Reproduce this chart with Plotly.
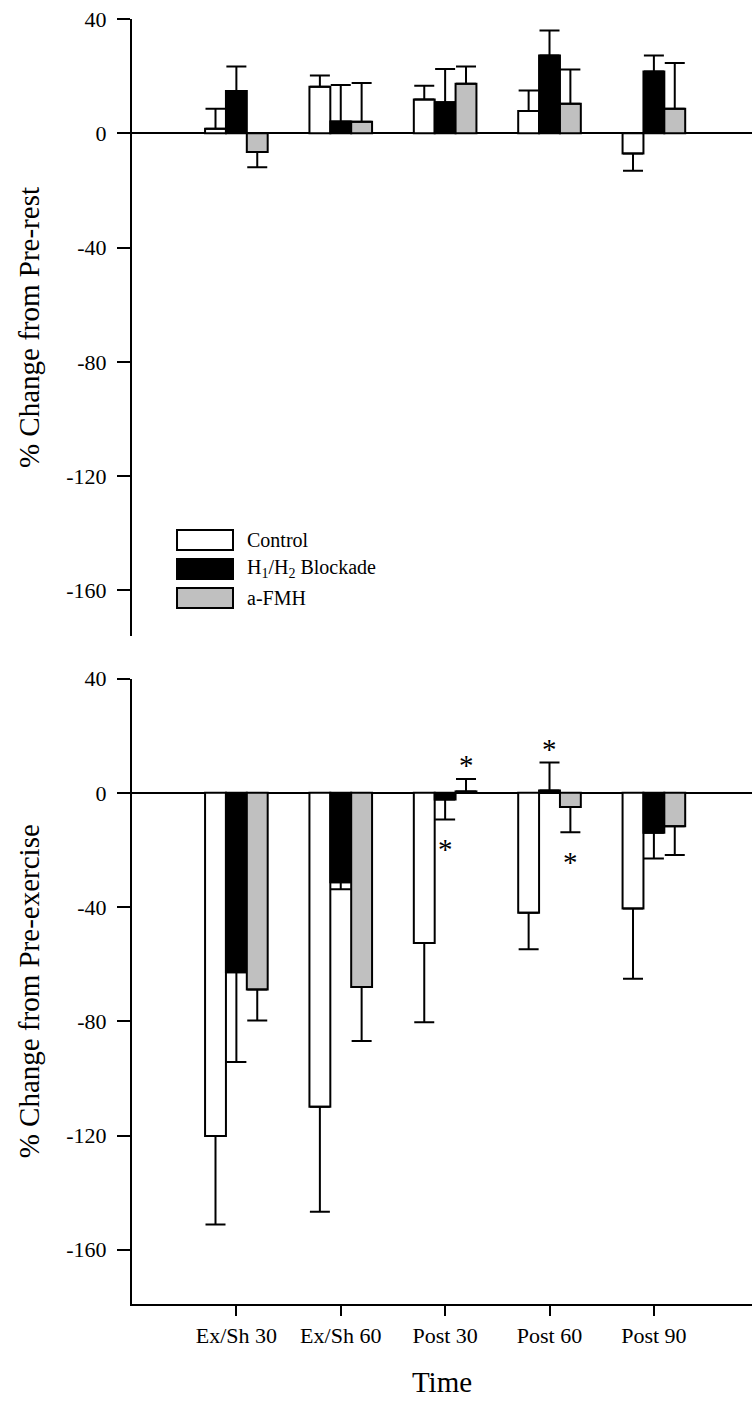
import plotly.graph_objects as go

# Time points and treatment groups
categories = ["Ex/Sh 30", "Ex/Sh 60", "Post 30", "Post 60", "Post 90"]
series_names = ["Control", "H<sub>1</sub>/H<sub>2</sub> Blockade", "a-FMH"]

# % change from pre-rest (mean and SEM)
rest_control = [1.6, 16.3, 11.8, 7.8, -7.1]
rest_control_sem = [7.0, 3.9, 4.8, 7.2, 6.0]
rest_block = [14.8, 4.1, 10.9, 27.2, 21.6]
rest_block_sem = [8.6, 12.8, 11.6, 8.8, 5.6]
rest_fmh = [-6.6, 4.0, 17.3, 10.3, 8.6]
rest_fmh_sem = [5.3, 13.6, 6.1, 12.0, 16.0]

# % change from pre-exercise (mean and SEM)
ex_control = [-120.2, -109.9, -52.6, -42.0, -40.5]
ex_control_sem = [31.0, 36.8, 27.7, 12.8, 24.6]
ex_block = [-62.8, -31.3, -2.3, 0.8, -14.0]
ex_block_sem = [31.5, 2.5, 7.0, 9.8, 9.0]
ex_fmh = [-68.9, -68.0, 0.5, -5.0, -11.7]
ex_fmh_sem = [10.8, 18.9, 4.3, 8.8, 10.1]

# significant differences vs control (time index, group index) in lower panel
significant = [(2, 1), (2, 2), (3, 1), (3, 2)]

y_ticks = [40, 0, -40, -80, -120, -160]
y_tick_text = ["40", "0", "-40", "-80", "-120", "-160"]

FONT = "Liberation Serif"
fills = ["white", "black", "#c0c0c0"]
BARGAP = 0.4
bar_w = (1 - BARGAP) / 3

panels = [
    ([rest_control, rest_block, rest_fmh], [rest_control_sem, rest_block_sem, rest_fmh_sem], "x", "y"),
    ([ex_control, ex_block, ex_fmh], [ex_control_sem, ex_block_sem, ex_fmh_sem], "x2", "y2"),
]

fig = go.Figure()
for vals_all, sems_all, xa, ya in panels:
    for s in range(3):
        vals, sems = vals_all[s], sems_all[s]
        up = [e if v >= 0 else 0 for v, e in zip(vals, sems)]
        down = [0 if v >= 0 else e for v, e in zip(vals, sems)]
        fig.add_trace(go.Bar(
            x=categories, y=vals, xaxis=xa, yaxis=ya, name=series_names[s],
            showlegend=False,
            marker=dict(color=fills[s], line=dict(color="black", width=2)),
            error_y=dict(type="data", symmetric=False, array=up, arrayminus=down,
                         color="black", thickness=2, width=10),
        ))

# asterisks beyond the error bar tips
ex_vals = panels[1][0]
ex_sems = panels[1][1]
for t, s in significant:
    v = ex_vals[s][t]
    e = ex_sems[s][t]
    above = v >= 0
    tip = v + e if above else v - e
    fig.add_annotation(
        x=t + (s - 1) * bar_w, y=tip, xref="x2", yref="y2", text="*",
        showarrow=False, yanchor="middle", yshift=14 if above else -30,
        font=dict(family=FONT, size=29, color="black"),
    )

# legend drawn inside the upper panel
leg_x0, leg_x1, leg_tx = 0.0726, 0.1629, 0.1823
leg_rows = [0.5946, 0.5720, 0.5494]
leg_h = 0.0078
for s, yc in enumerate(leg_rows):
    fig.add_shape(type="rect", xref="paper", yref="paper",
                  x0=leg_x0, x1=leg_x1, y0=yc - leg_h, y1=yc + leg_h,
                  fillcolor=fills[s], line=dict(color="black", width=2))
    fig.add_annotation(x=leg_tx, y=yc, xref="paper", yref="paper", text=series_names[s],
                       showarrow=False, xanchor="left", yanchor="middle",
                       font=dict(family=FONT, size=20, color="black"))

axis_common = dict(showgrid=False, color="black", linecolor="black",
                   tickfont=dict(family=FONT, size=22, color="black"))

yaxis_common = dict(
    axis_common, tickvals=y_ticks, ticktext=y_tick_text, ticks="outside", ticklen=13,
    tickwidth=2, showline=True, linewidth=2, zeroline=True, zerolinecolor="black",
    zerolinewidth=2, ticklabelstandoff=6,
)

fig.update_layout(
    width=752, height=1406,
    margin=dict(l=132, r=0, t=19, b=102),
    paper_bgcolor="white", plot_bgcolor="white",
    barmode="group", bargap=BARGAP, bargroupgap=0,
    font=dict(family=FONT, color="black"),
    xaxis=dict(axis_common, anchor="y", range=[-1, 4.94], showline=False,
               showticklabels=False, ticks="", zeroline=False),
    yaxis=dict(yaxis_common, anchor="x", domain=[0.5198, 1], range=[-176, 40],
               title=dict(text="% Change from Pre-rest", standoff=18,
                          font=dict(family=FONT, size=29, color="black"))),
    xaxis2=dict(axis_common, anchor="y2", range=[-1, 4.94], showline=True, linewidth=2,
                ticks="outside", ticklen=10, tickwidth=2, zeroline=False,
                ticklabelstandoff=1,
                title=dict(text="Time", standoff=24,
                           font=dict(family=FONT, size=29, color="black"))),
    yaxis2=dict(yaxis_common, anchor="x2", domain=[0, 0.4867], range=[-179, 40],
                title=dict(text="% Change from Pre-exercise", standoff=18,
                           font=dict(family=FONT, size=29, color="black"))),
)

fig.write_html("out.html")
